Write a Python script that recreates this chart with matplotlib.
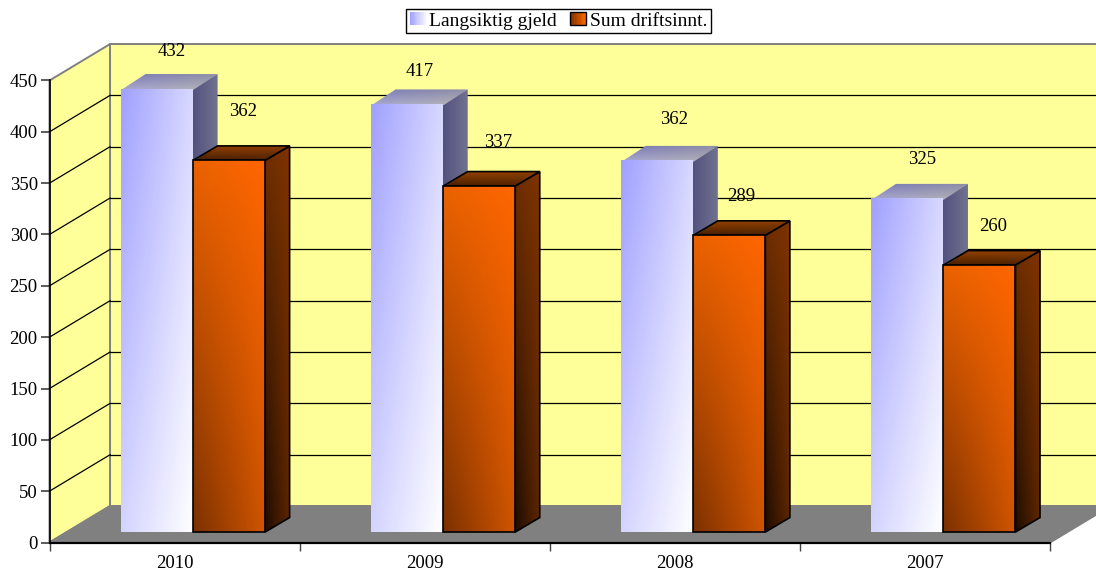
import numpy as np
import matplotlib
matplotlib.use("Agg")
import matplotlib.pyplot as plt
from matplotlib.legend_handler import HandlerBase
from matplotlib.patches import Polygon, Rectangle

plt.rcParams['font.family'] = ['Liberation Serif', 'DejaVu Serif']

# Data
years = ['2010', '2009', '2008', '2007']
gjeld = [432, 417, 362, 325]
driftsinnt = [362, 337, 289, 260]
series_names = ['Langsiktig gjeld', 'Sum driftsinnt.']
y_ticks = [0, 50, 100, 150, 200, 250, 300, 350, 400, 450]

# label offsets from bar top centre (px), they are uneven in the original
gjeld_nudge = [(15, 37), (13, 32), (17, 41), (15, 39)]
drift_nudge = [(14, 49), (19, 44), (12, 39), (14, 39)]

W, H = 1096, 571
fig = plt.figure(figsize=(W / 100, H / 100), dpi=100, facecolor='white')
ax = fig.add_axes([49.5 / W, (H - 542.5) / H, (1050 - 49.5) / W, (542.5 - 80.5) / H])
ax.patch.set_visible(False)
ax.set_xlim(0, 4)
ax.set_ylim(0, 450)

# oblique offsets in data units
depth_x, depth_y = 0.242, 35.5   # wall depth
bar_dx, bar_dy = 0.098, 14.1     # bar depth
bar_w = 0.288
bar_start = 0.286
base = 10.2

YELLOW = '#FFFF99'
GREY = '#808080'
TXT = 13.5


def rgb(c):
    return np.array(matplotlib.colors.to_rgb(c))


def shade(pts, tl, tr, bl, br, z, outline=None, edge=None):
    # polygon filled with a gradient given by its four bbox corner colours
    pts = np.array(pts)
    x0, x1 = pts[:, 0].min(), pts[:, 0].max()
    y0, y1 = pts[:, 1].min(), pts[:, 1].max()
    u, v = np.meshgrid(np.linspace(0, 1, 80), np.linspace(0, 1, 240))
    u, v = u[..., None], v[..., None]
    img = (1 - v) * ((1 - u) * rgb(tl) + u * rgb(tr)) + v * ((1 - u) * rgb(bl) + u * rgb(br))
    im = ax.imshow(img, extent=(x0, x1, y0, y1), origin='upper', aspect='auto',
                   interpolation='bilinear', zorder=z)
    clip = Polygon(pts, closed=True, transform=ax.transData, fc='none', ec='none')
    im.set_clip_box(fig.bbox)
    im.set_clip_path(clip)
    if edge is not None:
        ax.add_patch(Polygon(outline, closed=True, fc='none', ec=edge, lw=1.2,
                             joinstyle='miter', zorder=z + 0.1, clip_on=False))


def bar3d(x, val, colors, z, edge=None):
    top = base + val
    front = [(x, base), (x + bar_w, base), (x + bar_w, top), (x, top)]
    side = [(x + bar_w, base), (x + bar_w + bar_dx, base + bar_dy),
            (x + bar_w + bar_dx, top + bar_dy), (x + bar_w, top)]
    lid = [(x, top), (x + bar_w, top), (x + bar_w + bar_dx, top + bar_dy), (x + bar_dx, top + bar_dy)]
    # side and lid reach a little under the front face so no wall shows through the seam
    side_fill = [(p[0] - 0.004 if p[0] == x + bar_w else p[0], p[1]) for p in side]
    lid_fill = [(p[0], p[1] - 1.5 if p[1] == top else p[1]) for p in lid]
    shade(side_fill, *colors['side'], z, side, edge)
    shade(lid_fill, *colors['lid'], z + 1, lid, edge)
    shade(front, *colors['front'], z + 2, front, edge)


light = {'front': ('#A0A0FF', '#D8D8FF', '#D4D4FF', '#FFFFFF'),
         'side': ('#50507F', '#72728F', '#50507F', '#72728F'),
         'lid': ('#7878B8', '#8C8CA8', '#A8A8D0', '#B4B4B4')}
dark = {'front': ('#EA6200', '#FF6600', '#7A3000', '#D05500'),
        'side': ('#6E2E00', '#7F3300', '#1A0A00', '#5C2600'),
        'lid': ('#9C4500', '#8F3F00', '#3A1800', '#4A2000')}

# walls and floor
wall = dict(closed=True, clip_on=False, lw=1.4, zorder=1)
ax.add_patch(Polygon([(depth_x, depth_y), (4.6, depth_y), (4.6, 450 + depth_y), (depth_x, 450 + depth_y)],
                     fc=YELLOW, ec=GREY, **wall))
ax.add_patch(Polygon([(0, 0), (depth_x, depth_y), (depth_x, 450 + depth_y), (0, 450)],
                     fc=YELLOW, ec=GREY, **wall))
ax.add_patch(Polygon([(0, 0), (depth_x, depth_y), (4 + depth_x, depth_y), (4, 0)],
                     fc=GREY, ec=GREY, **wall))

# grid on side and back wall
for t in y_ticks[1:-1]:
    ax.plot([0, depth_x], [t, t + depth_y], color='black', lw=0.9, zorder=2, clip_on=False)
    ax.plot([depth_x, 4.6], [t + depth_y, t + depth_y], color='black', lw=0.9, zorder=2, clip_on=False)

# bars, left to right
z = 3
for i, yr in enumerate(years):
    x1 = i + bar_start
    x2 = x1 + bar_w
    bar3d(x1, gjeld[i], light, z)
    z += 3
    bar3d(x2, driftsinnt[i], dark, z, edge='black')
    z += 3

# value labels
for i in range(len(years)):
    for x, val, nudge in [(i + bar_start, gjeld[i], gjeld_nudge[i]),
                          (i + bar_start + bar_w, driftsinnt[i], drift_nudge[i])]:
        ax.annotate(str(val), xy=(x + bar_w / 2, base + val), xytext=(nudge[0] * 0.72, nudge[1] * 0.72),
                    textcoords='offset points', ha='center', va='center',
                    fontsize=TXT, color='black', zorder=100, annotation_clip=False)

# axes
for s in ['top', 'right']:
    ax.spines[s].set_visible(False)
ax.spines['left'].set_linewidth(1.2)
ax.spines['bottom'].set_linewidth(1.6)
ax.spines['left'].set_zorder(90)
ax.spines['bottom'].set_zorder(90)
ax.set_yticks(y_ticks)
ax.tick_params(axis='y', length=6.5, width=1.2, color='#404040', labelsize=TXT, pad=2)
ax.set_xticks(range(5))
ax.set_xticklabels([])
ax.set_xticks(np.arange(len(years)) + 0.5, years, minor=True)
ax.tick_params(axis='x', which='major', length=6, width=1, color='#404040')
ax.tick_params(axis='x', which='minor', length=0, labelsize=TXT, pad=9)


# gradient swatches for the legend
class Swatch(HandlerBase):
    def __init__(self, c0, c1, edge):
        super().__init__()
        self.c0, self.c1, self.edge = c0, c1, edge

    def create_artists(self, legend, orig, xd, yd, width, height, fontsize, trans):
        out = []
        n = 12
        for k in range(n):
            col = rgb(self.c0) + (rgb(self.c1) - rgb(self.c0)) * k / (n - 1)
            out.append(Rectangle((-xd + width * k / n, -yd), width / n + 0.2, height, fc=col, ec='none',
                                 transform=trans))
        if self.edge:
            out.append(Rectangle((-xd, -yd), width, height, fc='none', ec='black', lw=1, transform=trans))
        return out


h1 = Rectangle((0, 0), 1, 1)
h2 = Rectangle((0, 0), 1, 1)
leg = ax.legend([h1, h2], series_names, ncol=2, loc='center', bbox_to_anchor=(558.5 / W, (H - 21) / H),
                bbox_transform=fig.transFigure, fontsize=14, frameon=True, fancybox=False, framealpha=1,
                edgecolor='black', borderpad=0.2, handlelength=0.8, handleheight=0.6,
                handletextpad=0.2, columnspacing=0.7, borderaxespad=0,
                handler_map={h1: Swatch('#A0A0FF', '#F0F0FF', False), h2: Swatch('#7F3300', '#FF6600', True)})
leg.get_frame().set_linewidth(1)
leg.set_zorder(200)

fig.savefig('out.png', dpi=100, facecolor='white')
